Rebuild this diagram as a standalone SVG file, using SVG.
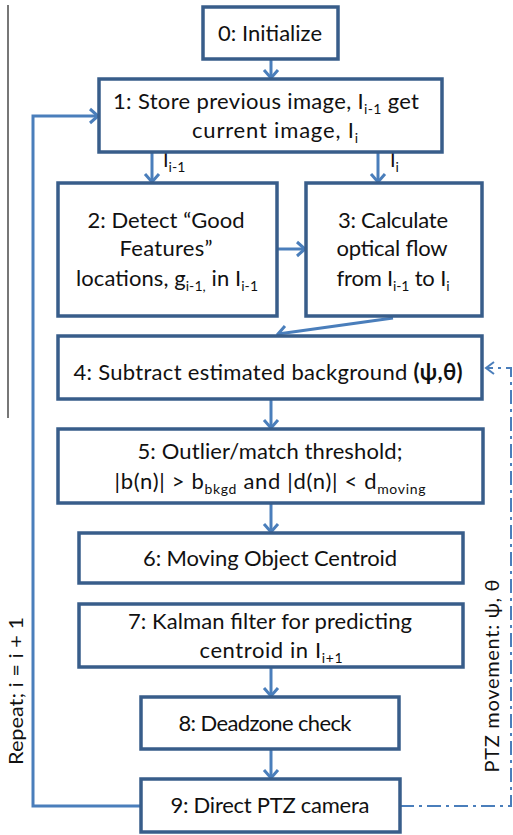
<svg xmlns="http://www.w3.org/2000/svg" width="513" height="835" viewBox="0 0 513 835">
<defs>
<style>
.box{fill:#fff;stroke:#385D8A;stroke-width:3.5}
.t{font-family:Lato,"Liberation Sans",sans-serif;font-size:22px;fill:#111;text-anchor:middle}
.s{font-size:14px}
.c{fill:none;stroke:#4A7EBB;stroke-width:3}
.dd{fill:none;stroke:#4A7EBB;stroke-width:2;stroke-dasharray:14,5,3,5}
</style>
<marker id="ah" markerUnits="userSpaceOnUse" markerWidth="20" markerHeight="20" viewBox="-10 -10 20 20" refX="0" refY="0" orient="auto">
<path d="M-8,-7 L0,0 L-8,7" fill="none" stroke="#4A7EBB" stroke-width="3"/>
</marker>
<marker id="ah2" markerUnits="userSpaceOnUse" markerWidth="20" markerHeight="20" viewBox="-10 -10 20 20" refX="0" refY="0" orient="auto">
<path d="M-8,-6 L0,0 L-8,6" fill="none" stroke="#4A7EBB" stroke-width="2"/>
</marker>
</defs>
<line x1="8" y1="5" x2="8" y2="418" stroke="#777" stroke-width="2"/>
<g id="connectors">
<path class="c" d="M271,59 V78" marker-end="url(#ah)"/>
<path class="c" d="M152,152 V182" marker-end="url(#ah)"/>
<path class="c" d="M378,152 V182" marker-end="url(#ah)"/>
<path class="c" d="M277,249 H305" marker-end="url(#ah)"/>
<path class="c" d="M393,318 L278,334" marker-end="url(#ah)"/>
<path class="c" d="M271,399 V428" marker-end="url(#ah)"/>
<path class="c" d="M271,503 V532" marker-end="url(#ah)"/>
<path class="c" d="M271,667 V696" marker-end="url(#ah)"/>
<path class="c" d="M271,749 V778" marker-end="url(#ah)"/>
<path class="c" d="M141,806 H33 V116 H98" marker-end="url(#ah)"/>
<path class="dd" d="M400,806 H511 V368 H486" marker-end="url(#ah2)"/>
<text class="t" x="163" y="167" style="text-anchor:start;font-size:20px">I<tspan class="s" dy="5">i-1</tspan></text>
<text class="t" x="390" y="167" style="text-anchor:start;font-size:20px">I<tspan class="s" dy="5">i</tspan></text>
<text class="t" transform="translate(23,691) rotate(-90)" style="font-size:20px" textLength="148" lengthAdjust="spacingAndGlyphs">Repeat; i = i + 1</text>
<text class="t" transform="translate(499,676) rotate(-90)" style="font-size:20px" textLength="193" lengthAdjust="spacing">PTZ movement: ψ, θ</text>
</g>
<g id="n0"><rect class="box" x="203" y="7" width="135" height="52"/><text class="t" x="270" y="41" textLength="104">0: Initialize</text></g>
<g id="n1"><rect class="box" x="99" y="79" width="343" height="73"/>
<text class="t" x="266" y="109" textLength="306">1: Store previous image, I<tspan class="s" dy="5">i-1</tspan><tspan dy="-5"> get</tspan></text>
<text class="t" x="275" y="138" textLength="166">current image, I<tspan class="s" dy="5">i</tspan></text></g>
<g id="n2"><rect class="box" x="58" y="183" width="219" height="133"/>
<text class="t" x="166" y="228" textLength="157">2: Detect “Good</text>
<text class="t" x="166" y="256" textLength="93">Features”</text>
<text class="t" x="167" y="286" textLength="182">locations, g<tspan class="s" dy="5">i-1,</tspan><tspan dy="-5"> in I</tspan><tspan class="s" dy="5">i-1</tspan></text></g>
<g id="n3"><rect class="box" x="306" y="183" width="176" height="133"/>
<text class="t" x="393" y="228" textLength="110">3: Calculate</text>
<text class="t" x="392" y="256" textLength="111">optical flow</text>
<text class="t" x="393" y="286" textLength="113">from I<tspan class="s" dy="5">i-1</tspan><tspan dy="-5"> to I</tspan><tspan class="s" dy="5">i</tspan></text></g>
<g id="n4"><rect class="box" x="58" y="336" width="424" height="63"/>
<text class="t" x="268" y="380" textLength="389">4: Subtract estimated background  <tspan font-weight="bold">(ψ,θ)</tspan></text></g>
<g id="n5"><rect class="box" x="58" y="429" width="425" height="74"/>
<text class="t" x="270" y="459" textLength="265">5: Outlier/match threshold;</text>
<text class="t" x="270" y="489" textLength="311">|b(n)| &gt; b<tspan class="s" dy="5">bkgd</tspan><tspan dy="-5"> and |d(n)| &lt; d</tspan><tspan class="s" dy="5">moving</tspan></text></g>
<g id="n6"><rect class="box" x="79" y="533" width="384" height="50"/>
<text class="t" x="270" y="566" textLength="254">6: Moving Object Centroid</text></g>
<g id="n7"><rect class="box" x="79" y="604" width="384" height="63"/>
<text class="t" x="270" y="629" textLength="284">7: Kalman filter for predicting</text>
<text class="t" x="271" y="658" textLength="143">centroid in  I<tspan class="s" dy="5">i+1</tspan></text></g>
<g id="n8"><rect class="box" x="141" y="697" width="258" height="52"/>
<text class="t" x="265" y="731" textLength="173">8: Deadzone check</text></g>
<g id="n9"><rect class="box" x="141" y="779" width="259" height="53"/>
<text class="t" x="270" y="813" textLength="199">9: Direct PTZ camera</text></g>
</svg>
